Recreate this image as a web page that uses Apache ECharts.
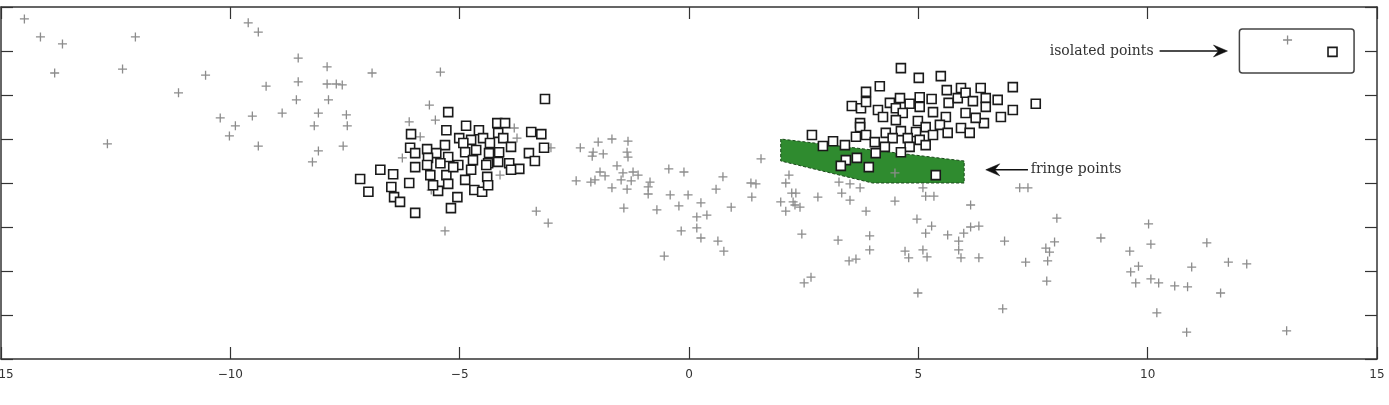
<!DOCTYPE html>
<html>
<head>
<meta charset="utf-8">
<script src="https://cdn.jsdelivr.net/npm/echarts@6/dist/echarts.min.js"></script>
<style>
  html, body { margin: 0; padding: 0; background: #fff; }
  #chart { width: 1389px; height: 405px; }
</style>
</head>
<body>
<div id="chart"></div>
<script>
// x tick labels every 5 from -15 to 15, y axis unlabelled (-4..4, step 1)
const xTicks = [-15, -10, -5, 0, 5, 10, 15];

// gray "+" points
const plusPoints = [
  [-14.49, 3.73], [-14.14, 3.32], [-13.66, 3.16], [-13.83, 2.5], [-12.07, 3.32],
  [-12.35, 2.59], [-12.68, 0.89], [-11.13, 2.05], [-10.54, 2.45], [-9.61, 3.64],
  [-9.39, 3.43], [-9.22, 2.2], [-10.22, 1.48], [-9.89, 1.3], [-10.02, 1.07],
  [-9.52, 1.52], [-9.39, 0.84], [-8.87, 1.59], [-8.52, 2.84], [-8.52, 2.3],
  [-8.56, 1.89], [-7.89, 2.64], [-7.89, 2.25], [-7.69, 2.25], [-7.56, 2.23],
  [-7.86, 1.89], [-8.08, 1.59], [-8.17, 1.3], [-7.47, 1.55], [-7.45, 1.3],
  [-7.54, 0.84], [-8.08, 0.73], [-8.21, 0.48], [-6.91, 2.5], [-5.42, 2.52],
  [-5.66, 1.77], [-6.1, 1.39], [-5.53, 1.43], [-6.25, 0.57], [-5.32, -1.09],
  [-5.86, 1.05], [-3.81, 1.25], [-3.75, 1.02], [-4.12, 0.18], [-3.33, -0.64],
  [-3.07, -0.91], [-3.01, 0.8], [-5.62, -0.16], [-2.37, 0.8], [-2.46, 0.05],
  [-1.98, 0.93], [-1.68, 1.0], [-1.33, 0.95], [-2.09, 0.7], [-1.87, 0.66],
  [-2.11, 0.61], [-1.35, 0.7], [-1.33, 0.59], [-1.57, 0.39], [-1.94, 0.25],
  [-1.83, 0.16], [-1.44, 0.23], [-1.22, 0.25], [-1.11, 0.18], [-1.48, 0.07],
  [-1.26, 0.05], [-2.14, 0.02], [-2.05, 0.07], [-1.68, -0.11], [-1.35, -0.14],
  [-0.85, 0.02], [-0.89, -0.09], [-0.89, -0.25], [-1.42, -0.57], [-0.7, -0.61],
  [-0.44, 0.32], [-0.11, 0.25], [-0.41, -0.27], [-0.02, -0.27], [-0.22, -0.52],
  [0.26, -0.45], [0.17, -0.77], [0.39, -0.73], [0.17, -1.02], [-0.17, -1.09],
  [0.26, -1.25], [0.63, -1.32], [0.76, -1.55], [-0.54, -1.66], [0.74, 0.14],
  [0.59, -0.14], [0.92, -0.55], [1.35, 0.0], [1.46, -0.02], [1.37, -0.32],
  [1.57, 0.55], [2.18, 0.18], [2.11, 0.0], [2.24, -0.23], [2.33, -0.23],
  [2.0, -0.43], [2.27, -0.43], [2.31, -0.5], [2.42, -0.55], [2.11, -0.64],
  [2.81, -0.32], [3.27, 0.02], [3.51, -0.02], [3.73, -0.11], [3.33, -0.23],
  [3.51, -0.39], [3.86, -0.64], [2.46, -1.16], [3.25, -1.3], [3.94, -1.2],
  [3.94, -1.52], [3.49, -1.77], [3.64, -1.73], [2.66, -2.14], [2.51, -2.27],
  [4.49, -0.41], [5.1, -0.11], [5.16, -0.3], [5.34, -0.3], [4.97, -0.82],
  [5.29, -0.98], [5.16, -1.14], [4.71, -1.55], [4.79, -1.7], [5.1, -1.52],
  [5.19, -1.68], [5.64, -1.18], [5.88, -1.32], [5.99, -1.14], [6.14, -1.0],
  [6.32, -0.98], [5.88, -1.52], [5.93, -1.7], [6.32, -1.7], [6.14, -0.5],
  [6.88, -1.32], [4.99, -2.5], [7.21, -0.11], [7.39, -0.11], [4.49, 0.23],
  [6.84, -2.86], [7.34, -1.8], [8.02, -0.8], [7.78, -1.48], [7.86, -1.57],
  [7.97, -1.34], [7.82, -1.77], [7.8, -2.23], [8.98, -1.25], [9.61, -1.55],
  [9.63, -2.02], [9.8, -1.89], [9.74, -2.27], [10.02, -0.93], [10.07, -1.39],
  [10.07, -2.18], [10.24, -2.27], [10.59, -2.34], [10.87, -2.36], [10.96, -1.91],
  [11.29, -1.36], [11.76, -1.8], [12.16, -1.84], [11.59, -2.5], [10.2, -2.95],
  [10.85, -3.39], [13.03, -3.36], [13.05, 3.25]
];

// black-outlined square points
const squarePoints = [
  [-5.25, 1.61], [-3.14, 1.91], [-4.86, 1.3], [-5.29, 1.2], [-6.06, 1.11],
  [-4.58, 1.2], [-4.18, 1.36], [-4.01, 1.36], [-3.44, 1.16], [-3.22, 1.11],
  [-4.49, 1.02], [-4.16, 1.14], [-4.05, 1.02], [-5.01, 1.02], [-4.75, 0.98],
  [-4.92, 0.91], [-5.32, 0.86], [-4.34, 0.91], [-3.88, 0.82], [-3.16, 0.8],
  [-6.08, 0.8], [-5.71, 0.77], [-5.51, 0.68], [-5.25, 0.59], [-4.88, 0.7],
  [-4.64, 0.75], [-4.36, 0.68], [-4.14, 0.7], [-5.97, 0.68], [-3.49, 0.68],
  [-3.36, 0.5], [-5.69, 0.57], [-4.71, 0.52], [-4.38, 0.45], [-5.97, 0.36],
  [-5.71, 0.41], [-5.42, 0.45], [-5.03, 0.41], [-4.75, 0.3], [-4.42, 0.41],
  [-4.16, 0.48], [-3.92, 0.45], [-3.7, 0.32], [-3.88, 0.3], [-5.64, 0.18],
  [-5.29, 0.18], [-4.88, 0.07], [-4.4, 0.14], [-7.17, 0.09], [-6.73, 0.3],
  [-6.45, 0.2], [-6.1, 0.0], [-6.99, -0.2], [-6.49, -0.09], [-6.43, -0.32],
  [-6.3, -0.43], [-5.97, -0.68], [-5.47, -0.18], [-4.68, -0.16], [-4.51, -0.2],
  [-5.05, -0.32], [-5.19, -0.57], [-5.58, -0.05], [-5.25, -0.02], [-4.38, -0.05],
  [-5.14, 0.36],
  [4.62, 2.61], [5.01, 2.39], [5.49, 2.43], [4.16, 2.2], [3.86, 2.07],
  [7.06, 2.18], [7.56, 1.8], [6.36, 2.16], [5.93, 2.16], [5.62, 2.11],
  [3.55, 1.75], [3.75, 1.7], [3.86, 1.84], [4.12, 1.66], [4.38, 1.82],
  [4.6, 1.93], [4.51, 1.7], [4.81, 1.8], [5.03, 1.95], [5.03, 1.73],
  [5.29, 1.91], [5.66, 1.82], [5.86, 1.93], [6.03, 2.05], [6.19, 1.86],
  [6.47, 1.93], [6.73, 1.89], [7.06, 1.66], [6.8, 1.5], [6.43, 1.36],
  [6.25, 1.48], [6.03, 1.59], [5.6, 1.5], [5.32, 1.61], [4.99, 1.41],
  [4.66, 1.59], [3.73, 1.36], [3.73, 1.27], [4.23, 1.5], [4.51, 1.43],
  [5.47, 1.32], [5.93, 1.25], [6.12, 1.14], [5.64, 1.14], [5.16, 1.27],
  [5.32, 1.09], [4.95, 1.16], [4.62, 1.18], [4.29, 1.14], [3.86, 1.09],
  [3.64, 1.05], [4.05, 0.93], [4.44, 1.02], [4.77, 1.02], [5.03, 0.98],
  [5.16, 0.86], [4.81, 0.82], [4.62, 0.7], [4.27, 0.82], [4.07, 0.68],
  [2.68, 1.09], [2.92, 0.84], [3.14, 0.95], [3.4, 0.86], [3.42, 0.52],
  [3.31, 0.39], [3.66, 0.57], [3.92, 0.36], [5.38, 0.18], [6.47, 1.73],
  [14.03, 2.98]
];

// shaded fringe region (polygon corners)
const fringeRegion = [[2, 1], [2, 0.5], [4, 0], [6, 0], [6, 0.5]];

// box round the isolated points: [xMin, yMin, xMax, yMax]
const isolatedBox = [[12, 2.5, 14.5, 3.5]];

// annotation arrows: [tailX, tailY, tipX, tipY]
const arrows = [[10.26, 3.0, 11.74, 3.0], [7.39, 0.3, 6.47, 0.3]];

// annotation texts: [x, y, text, align]
const notes = [[10.13, 3.0, 'isolated points', 'right'], [7.45, 0.3, 'fringe points', 'left']];

const chart = echarts.init(document.getElementById('chart'));

const axisLine = { show: true, onZero: false, lineStyle: { color: '#333', width: 1.5 } };
const axisTick = { show: true, inside: true, length: 12, lineStyle: { color: '#333', width: 1.2 } };

function fmt(v) {
  return v < 0 ? '\u2212' + Math.abs(v) : String(v);
}

const option = {
  animation: false,
  backgroundColor: '#fff',
  grid: { left: 1, right: 12, top: 7, bottom: 46, outerBoundsMode: 'none' },
  xAxis: [
    {
      type: 'value', position: 'bottom', min: xTicks[0], max: xTicks[xTicks.length - 1], interval: 5,
      axisLine: axisLine, axisTick: axisTick, splitLine: { show: false },
      axisLabel: { show: true, margin: 10, color: '#333', fontSize: 12, fontFamily: 'DejaVu Sans', formatter: fmt }
    },
    {
      type: 'value', position: 'top', min: xTicks[0], max: xTicks[xTicks.length - 1], interval: 5,
      axisLine: axisLine, axisTick: axisTick, splitLine: { show: false }, axisLabel: { show: false }
    }
  ],
  yAxis: [
    {
      type: 'value', position: 'left', min: -4, max: 4, interval: 1,
      axisLine: axisLine, axisTick: axisTick, splitLine: { show: false }, axisLabel: { show: false }
    },
    {
      type: 'value', position: 'right', min: -4, max: 4, interval: 1,
      axisLine: axisLine, axisTick: axisTick, splitLine: { show: false }, axisLabel: { show: false }
    }
  ],
  series: [
    {
      name: 'fringe',
      type: 'custom',
      z: 1,
      silent: true,
      data: fringeRegion,
      renderItem: function (params, api) {
        if (params.dataIndex !== 0) return null;
        const pts = fringeRegion.map(function (p) { return api.coord(p); });
        return {
          type: 'polygon',
          shape: { points: pts },
          style: { fill: '#2f8b2f', stroke: '#1c4a1c', lineWidth: 1, lineDash: [3, 2] }
        };
      }
    },
    {
      name: 'plus',
      type: 'scatter',
      z: 2,
      symbol: 'path://M5 0 L5 10 M0 5 L10 5',
      symbolSize: 9,
      itemStyle: { color: 'rgba(0,0,0,0)', borderColor: '#8c8c8c', borderWidth: 1.3, opacity: 1 },
      data: plusPoints
    },
    {
      name: 'square',
      type: 'scatter',
      z: 3,
      symbol: 'rect',
      symbolSize: 9,
      itemStyle: { color: '#fff', borderColor: '#1a1a1a', borderWidth: 1.6, opacity: 1 },
      data: squarePoints
    },
    {
      name: 'box',
      type: 'custom',
      z: 4,
      silent: true,
      data: isolatedBox,
      renderItem: function (params, api) {
        const a = api.coord([api.value(0), api.value(3)]);
        const b = api.coord([api.value(2), api.value(1)]);
        return {
          type: 'rect',
          shape: { x: a[0], y: a[1], width: b[0] - a[0], height: b[1] - a[1], r: 3 },
          style: { fill: null, stroke: '#444', lineWidth: 1.5 }
        };
      }
    },
    {
      name: 'arrows',
      type: 'custom',
      z: 5,
      silent: true,
      data: arrows,
      renderItem: function (params, api) {
        const t = api.coord([api.value(0), api.value(1)]);
        const h = api.coord([api.value(2), api.value(3)]);
        const d = h[0] > t[0] ? 1 : -1;
        return {
          type: 'group',
          children: [
            {
              type: 'line',
              shape: { x1: t[0], y1: t[1], x2: h[0] - d * 6, y2: h[1] },
              style: { stroke: '#111', lineWidth: 1.5 }
            },
            {
              type: 'polygon',
              shape: {
                points: [
                  [h[0], h[1]],
                  [h[0] - d * 14, h[1] - 6],
                  [h[0] - d * 9, h[1]],
                  [h[0] - d * 14, h[1] + 6]
                ]
              },
              style: { fill: '#111', stroke: '#111', lineWidth: 0.5 }
            }
          ]
        };
      }
    },
    {
      name: 'notes',
      type: 'custom',
      z: 5,
      silent: true,
      data: notes,
      renderItem: function (params, api) {
        const n = notes[params.dataIndex];
        const p = api.coord([n[0], n[1]]);
        return {
          type: 'text',
          x: p[0], y: p[1],
          style: {
            text: n[2], align: n[3], verticalAlign: 'middle',
            fill: '#333', fontSize: 14, fontFamily: 'DejaVu Serif'
          }
        };
      }
    }
  ]
};

chart.setOption(option);
</script>
</body>
</html>
